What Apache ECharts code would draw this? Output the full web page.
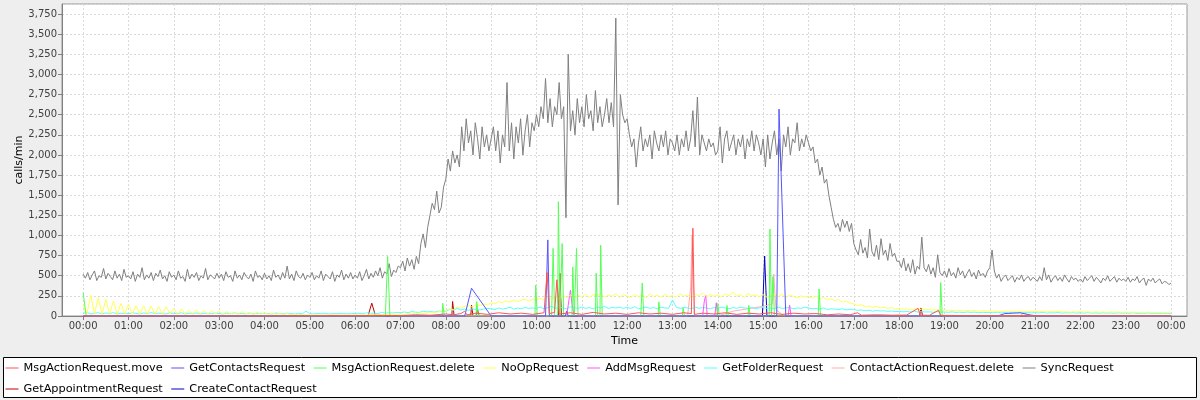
<!DOCTYPE html>
<html><head><meta charset="utf-8">
<script src="https://cdn.jsdelivr.net/npm/echarts@6/dist/echarts.min.js"></script>
<style>html,body{margin:0;padding:0;background:#eeeeee}#c{width:1200px;height:400px}</style>
</head><body><div id="c"></div>
<script>
// ---- category / tick data ----
const seriesNames = ['MsgActionRequest.move','GetContactsRequest','MsgActionRequest.delete','NoOpRequest','AddMsgRequest','GetFolderRequest','ContactActionRequest.delete','SyncRequest','GetAppointmentRequest','CreateContactRequest'];
const seriesColors = ['#ff5555','#5555ff','#55ff55','#ffff55','#ff55ff','#55ffff','#ffafaf','#808080','#c00000','#0000c0'];
const hourTicks = [0,60,120,180,240,300,360,420,480,540,600,660,720,780,840,900,960,1020,1080,1140,1200,1260,1320,1380,1440];
const hourLabels = ['00:00','01:00','02:00','03:00','04:00','05:00','06:00','07:00','08:00','09:00','10:00','11:00','12:00','13:00','14:00','15:00','16:00','17:00','18:00','19:00','20:00','21:00','22:00','23:00','00:00'];

// SyncRequest, one value every 3 minutes from 00:00 (20 per hour)
const syncRequest = [
520,470,540,450,510,560,440,500,480,590,460,530,490,450,560,470,520,440,580,480,
500,460,550,430,520,480,600,450,510,470,540,440,530,490,570,460,500,430,550,480,
510,450,560,470,490,430,580,460,520,480,540,440,500,470,590,450,510,490,460,530,
470,520,440,550,480,500,430,560,470,510,450,540,490,460,520,430,560,480,500,450,
530,460,500,440,570,480,510,450,540,470,620,460,520,440,560,490,470,530,450,510,
480,540,450,500,470,560,440,520,490,460,550,430,510,480,570,450,520,470,540,460,
510,470,550,440,500,580,460,530,480,560,500,600,470,550,520,650,490,570,540,620,
600,680,560,720,620,700,580,740,650,900,1020,850,1100,1250,1400,1320,1550,1280,1350,1600,
1700,1950,1800,2050,1900,2000,1850,2350,2050,2450,2150,2300,2000,2400,2200,1950,2350,2100,2250,2050,
2200,2350,2050,2300,1900,2250,2100,2900,2050,2400,1950,2350,2150,2450,2000,2300,2500,2100,2400,2300,
2500,2350,2600,2450,2950,2400,2700,2350,2600,2500,2900,2450,2600,1220,3250,2300,2550,2250,2700,2400,
2600,2350,2750,2450,2550,2300,2800,2400,2600,2350,2500,2700,2400,2650,2350,3700,1380,2750,2500,2400,
2450,2250,2100,2200,1850,2150,2350,2050,2200,2100,2250,1950,2300,2150,2050,2250,2100,2300,2000,2200,
2150,2050,2250,2000,2200,2100,2300,2050,2200,2550,2100,2720,2000,2250,2150,2050,2200,2100,2150,2000,
2050,2350,1900,2200,2300,2050,2150,2250,2000,2200,2100,2250,1950,2200,2100,2300,2050,2250,2150,2000,
2200,1850,2250,1950,2150,2300,2000,2200,1800,2250,2100,2350,2000,2200,2150,2400,2050,2200,2100,2250,
2150,2050,2100,1900,1950,1750,1850,1650,1700,1500,1350,1200,1100,1150,1050,1200,1100,1180,1050,1150,
900,820,760,950,780,850,720,1080,800,740,880,700,960,760,820,690,900,740,780,680,
680,600,720,560,650,540,700,520,620,580,980,600,550,640,520,600,480,760,540,500,
560,480,590,500,540,470,600,510,560,470,530,580,490,540,460,570,500,530,480,560,
600,820,560,470,520,430,480,510,440,470,500,420,480,450,510,430,470,490,440,480,
460,430,490,440,600,450,510,420,470,500,440,480,430,510,460,420,490,450,470,430,
460,420,490,440,470,500,430,480,450,410,470,440,500,430,460,490,420,470,440,460,
430,480,420,460,440,490,410,450,470,380,460,430,470,410,440,460,400,430,420,390,
410];

// NoOpRequest, one value every 5 minutes (12 per hour)
const noOpRequest = [
140,20,260,25,228,20,207,25,186,20,158,25,
149,20,128,25,128,20,124,25,116,20,116,25,
95,20,87,25,75,20,80,25,70,20,65,25,
60,20,55,25,50,20,55,25,45,20,45,20,
40,20,35,20,30,20,30,15,25,15,20,15,
15,10,15,10,12,10,15,10,12,10,15,10,
15,12,15,10,20,15,20,15,25,20,25,20,
25,20,30,25,30,35,30,40,45,40,50,60,
70,90,80,110,100,120,130,110,140,130,150,140,
160,150,180,165,190,170,200,180,195,210,185,205,
200,220,195,230,210,240,215,250,225,260,230,255,
240,270,230,265,250,280,235,260,245,275,230,265,
250,230,270,240,260,225,275,245,255,235,270,240,
255,235,280,245,260,230,270,250,285,240,265,245,
260,240,275,250,300,245,265,235,280,250,260,240,
265,235,255,280,240,270,230,260,245,225,250,235,
240,220,250,210,230,200,215,190,205,170,185,160,
150,130,140,115,125,105,120,100,110,95,105,90,
95,85,90,80,88,75,85,78,80,72,78,70,
75,68,72,65,70,62,72,65,68,60,66,62,
65,58,62,55,60,58,62,55,60,52,58,55,
58,52,56,50,55,52,58,50,54,48,52,50,
55,48,52,46,54,48,50,45,52,48,50,44,
50,45,48,42,46,44,48,40,45,42,44,40,
40];

// GetFolderRequest, one value every 5 minutes
const getFolderRequest = [
30,45,25,35,40,28,38,30,42,25,35,30,
28,40,32,25,38,30,42,28,35,30,25,38,
32,28,40,25,35,30,38,26,34,30,28,36,
30,25,35,28,40,30,32,25,36,28,30,34,
28,32,25,38,30,28,35,30,26,34,28,60,
30,26,32,28,35,25,30,28,34,30,26,32,
30,35,28,40,32,38,30,45,35,40,38,45,
40,50,42,55,48,45,60,50,55,48,62,55,
60,80,70,95,75,85,70,90,80,75,85,95,
90,80,100,85,95,110,85,100,90,105,95,100,
95,110,90,105,120,95,110,100,90,115,100,95,
110,95,105,90,115,100,120,95,105,100,110,95,
105,95,115,90,100,110,95,105,90,110,100,95,
200,110,95,105,100,90,110,95,105,100,90,105,
95,110,100,90,105,95,110,100,95,105,90,100,
105,95,100,90,110,95,100,105,90,100,95,110,
100,90,95,85,100,80,90,85,80,90,75,85,
80,70,75,65,72,60,68,62,65,58,62,55,
58,52,56,50,60,48,55,50,52,46,55,48,
50,45,52,44,48,42,50,45,48,40,46,44,
45,40,48,38,44,40,46,38,42,40,44,38,
42,38,45,36,40,38,44,35,40,38,42,36,
40,35,42,36,38,34,40,36,38,33,40,35,
38,34,40,32,36,34,38,32,36,33,35,32,
30];

// sparse series: [minute of day, calls/min]
const msgActionMove = [[0,0],[300,0],[330,5],[360,3],[390,8],[420,5],[440,15],[460,10],[480,25],[490,15],[500,30],[505,60],[508,15],[520,35],[535,20],[550,40],[565,25],[580,35],[595,20],[610,40],[614,540],[617,30],[624,45],[627,450],[630,25],[645,40],[660,20],[675,45],[690,25],[705,35],[720,20],[735,40],[750,25],[765,35],[780,20],[795,40],[805,30],[807,1090],[809,20],[820,35],[835,25],[850,40],[865,20],[880,35],[895,25],[910,40],[925,20],[940,35],[955,25],[970,30],[985,15],[1000,25],[1015,15],[1025,40],[1030,10],[1050,15],[1070,10],[1090,12],[1105,95],[1108,10],[1120,8],[1132,70],[1135,8],[1160,6],[1200,5],[1260,4],[1320,3],[1380,2],[1440,0]];
const getContactsRequest = [[0,0],[505,0],[514,345],[540,0],[612,0],[615,945],[617,0],[638,0],[640,60],[642,0],[918,0],[921,2570],[930,0],[1210,0],[1220,30],[1240,40],[1255,10],[1265,0],[1440,0]];
const msgActionDelete = [[0,290],[4,0],[400,0],[403,740],[406,0],[475,0],[476,157],[478,0],[520,0],[521,178],[523,0],[598,0],[599,385],[601,0],[620,0],[622,840],[624,0],[628,0],[629,1420],[631,0],[633,0],[634,900],[636,0],[647,0],[648,610],[650,0],[652,0],[653,840],[655,0],[678,0],[679,530],[681,0],[684,0],[685,880],[687,0],[738,0],[740,410],[742,0],[761,0],[762,175],[764,0],[793,0],[794,100],[796,0],[839,0],[840,155],[842,0],[851,0],[852,130],[854,0],[880,0],[881,130],[883,0],[908,0],[909,1080],[911,0],[912,0],[913,490],[915,0],[973,0],[974,335],[976,0],[1134,0],[1135,415],[1137,0],[1240,0],[1245,40],[1250,0],[1440,0]];
const addMsgRequest = [[0,0],[640,0],[643,200],[645,320],[647,150],[650,0],[820,0],[822,175],[824,260],[826,0],[836,0],[838,165],[840,0],[933,0],[935,135],[937,0],[1440,0]];
const contactActionDelete = [[0,0],[800,0],[804,350],[806,1000],[809,0],[840,0],[860,60],[880,90],[900,120],[912,150],[914,520],[917,80],[925,20],[935,0],[1440,0]];
const getAppointmentRequest = [[0,0],[377,0],[382,160],[387,0],[488,0],[489,180],[491,0],[513,0],[514,135],[516,0],[520,0],[522,80],[524,0],[629,0],[631,530],[633,0],[1107,0],[1109,100],[1111,0],[1440,0]];
const createContactRequest = [[0,0],[899,0],[902,745],[905,0],[1440,0]];

// ---- build ----
const FONT = 'DejaVu Sans';
const everyN = (arr, step) => arr.map((v, i) => [i * step, v]);
const seriesData = [
  msgActionMove, getContactsRequest, msgActionDelete, everyN(noOpRequest, 5),
  addMsgRequest, everyN(getFolderRequest, 5), contactActionDelete,
  everyN(syncRequest, 3), getAppointmentRequest, createContactRequest
];
const series = [];
for (let i = seriesNames.length - 1; i >= 0; i--) {
  series.push({
    name: seriesNames[i], type: 'line', data: seriesData[i],
    showSymbol: false, symbol: 'none',
    itemStyle: { color: seriesColors[i] },
    lineStyle: { width: 1, color: seriesColors[i] },
    emphasis: { disabled: true }, silent: true
  });
}
const legendItems = seriesNames.map((n, i) => ({
  name: n, itemStyle: { opacity: 0 }, lineStyle: { color: seriesColors[i], width: 1, opacity: 1 }
}));

const chart = echarts.init(document.getElementById('c'), null, { renderer: 'canvas' });
chart.setOption({
  animation: false,
  backgroundColor: '#eeeeee',
  color: seriesColors.slice().reverse(),
  textStyle: { fontFamily: FONT },
  grid: { left: 62, right: 13, top: 4, bottom: 84, show: true, backgroundColor: '#ffffff', borderColor: '#999999', borderWidth: 1 },
  graphic: { elements: [{ type: 'rect', z: 0, silent: true,
    shape: { x: 3.5, y: 357.5, width: 1193, height: 40 },
    style: { fill: '#ffffff', stroke: '#000000', lineWidth: 1 } }] },
  legend: {
    data: legendItems, left: 5, top: 361.5, width: 1185, padding: 0,
    itemWidth: 13, itemHeight: 11, itemGap: 8,
    textStyle: { fontFamily: FONT, fontSize: 11.3, color: '#000000', lineHeight: 13 }
  },
  xAxis: {
    type: 'value', min: -28, max: 1461,
    name: 'Time', nameLocation: 'middle', nameGap: 20,
    nameTextStyle: { fontFamily: FONT, fontSize: 11, color: '#000000' },
    axisLine: { onZero: false, lineStyle: { color: '#808080' } },
    axisTick: { customValues: hourTicks, length: 4, lineStyle: { color: '#808080' } },
    axisLabel: { customValues: hourTicks, fontFamily: FONT, fontSize: 10, color: '#404040', margin: 5,
      formatter: v => hourLabels[hourTicks.indexOf(Math.round(v))] },
    splitLine: { show: true, lineStyle: { color: '#d9d9d9', type: [2, 2], width: 1 } }
  },
  yAxis: {
    type: 'value', min: 0, max: 3875, interval: 250,
    name: 'calls/min', nameLocation: 'middle', nameGap: 37, nameRotate: 90, nameMoveOverlap: false,
    nameTextStyle: { fontFamily: FONT, fontSize: 11, color: '#000000' },
    axisLine: { show: true, onZero: false, lineStyle: { color: '#808080' } },
    axisTick: { show: true, length: 4, lineStyle: { color: '#808080' } },
    axisLabel: { showMaxLabel: false, fontFamily: FONT, fontSize: 10, color: '#404040', margin: 5,
      formatter: v => v.toLocaleString('en-US') },
    splitLine: { show: true, lineStyle: { color: '#d9d9d9', type: [2, 2], width: 1 } }
  },
  series: series
});
</script>
</body></html>
